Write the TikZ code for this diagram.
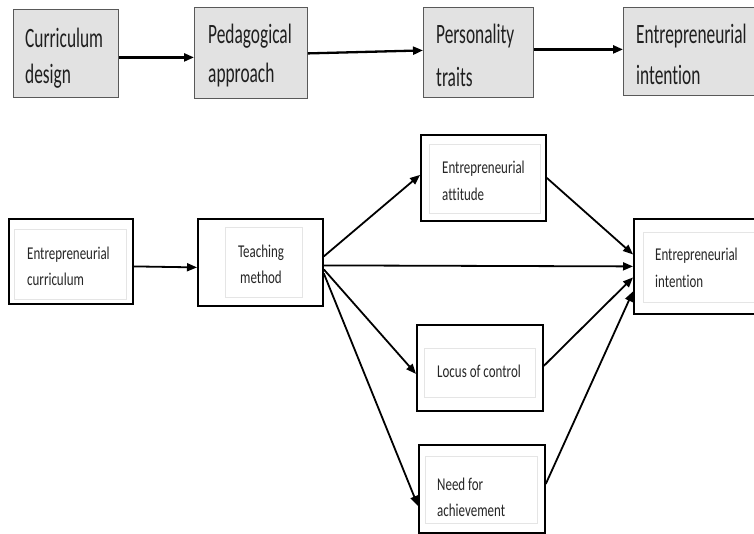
\documentclass[tikz,border=0pt]{standalone}
\usepackage{fontspec}
\setmainfont{Carlito}
\newfontfamily\topfont[FakeStretch=0.62,Ligatures=NoCommon]{Carlito}
\newfontfamily\botfont[FakeStretch=0.72,Ligatures=NoCommon]{Carlito}
\usetikzlibrary{arrows.meta,calc}
\definecolor{topfill}{RGB}{226,226,226}
\newcommand\lbl[4]{\fontsize{#1}{#2}\selectfont\begin{tabular}[t]{@{}#3@{}}#4\end{tabular}}
\begin{document}
\begin{tikzpicture}[x=1pt,y=-1pt,
  topbox/.style={draw=black!65, fill=topfill, line width=0.8pt, anchor=north west, inner sep=0pt},
  outerbox/.style={draw=black, line width=1.8pt, anchor=north west, inner sep=0pt},
  innerbox/.style={draw=black!10, line width=0.6pt},
  toplbl/.style={anchor=base west, inner sep=0pt, text=black!88, font=\topfont},
  botlbl/.style={anchor=base west, inner sep=0pt, text=black!85, font=\botfont},
  arr/.style={line width=1.8pt, -{Triangle[length=10pt,width=8pt]}},
  toparr/.style={arr, line width=2.3pt}]
\fill[white] (0,0) rectangle (754,533);
\useasboundingbox (0,0) rectangle (754,533);
% top row
\node[topbox, minimum width=105pt, minimum height=88pt] (cd) at (13,9) {};
\node[topbox, minimum width=113pt, minimum height=91pt] (pa) at (194,7) {};
\node[topbox, minimum width=110pt, minimum height=90pt] (pt) at (423,7) {};
\node[topbox, minimum width=137pt, minimum height=88pt] (tei) at (623,7) {};
\node[toplbl] (cdt) at (25,47) {\lbl{28}{36}{l}{Curriculum\\design}};
\node[toplbl] (pat) at (208,43) {\lbl{28}{39}{l}{Pedagogical\\approach}};
\node[toplbl] (ptt) at (436,43) {\lbl{28}{43}{l}{Personality\\traits}};
\node[toplbl] (teit) at (636,43) {\lbl{28}{41}{l}{Entrepreneurial\\intention}};
\draw[toparr] ([yshift=-4pt]cd.east) -- ([yshift=-4.5pt]pa.west);
\draw[toparr] ([yshift=-0.5pt]pa.east) -- ([yshift=2pt]pt.west);
\draw[toparr] ([yshift=3pt]pt.east) -- ([yshift=2pt]tei.west);
% bottom: inner boxes
\draw[innerbox] (14,229) rectangle (126,299);
\draw[innerbox] (225,227) rectangle (302,297);
\draw[innerbox] (429,144) rectangle (540,213);
\draw[innerbox] (643,232) rectangle (760,302);
\draw[innerbox] (424,348) rectangle (535,397);
\draw[innerbox] (425,456) rectangle (537,523);
% bottom: outer boxes
\node[outerbox, minimum width=124pt, minimum height=85pt] (ec) at (8,218) {};
\node[outerbox, minimum width=125pt, minimum height=87pt] (tm) at (197,218) {};
\node[outerbox, minimum width=125pt, minimum height=86pt] (ea) at (420,134) {};
\node[outerbox, minimum width=127pt, minimum height=95pt] (ei) at (633,218) {};
\node[outerbox, minimum width=126pt, minimum height=86pt] (lc) at (416,324) {};
\node[outerbox, minimum width=126pt, minimum height=88pt] (na) at (418,444) {};
% labels
\node[botlbl] (ect) at (27,259) {\lbl{18}{26}{l}{Entrepreneurial\\curriculum}};
\node[botlbl, anchor=base] (tmt) at (261,257) {\lbl{18}{26}{c}{Teaching\\method}};
\node[botlbl] (eat) at (442,173) {\lbl{18}{27}{l}{Entrepreneurial\\attitude}};
\node[botlbl] (eit) at (655,260) {\lbl{18}{27}{l}{Entrepreneurial\\intention}};
\node[botlbl] (lct) at (437,377) {\lbl{18}{26}{l}{Locus of control}};
\node[botlbl] (nat) at (437,490) {\lbl{18}{26}{l}{Need for\\achievement}};
% connectors
\draw[arr] ([yshift=-5pt]ec.east) -- ([yshift=-5pt]tm.west);
\draw[arr] ([yshift=6pt]tm.east) -- ([yshift=3pt]ea.west);
\draw[arr] ([yshift=-3pt]tm.east) -- ([yshift=0pt]ei.west);
\draw[arr] ([yshift=-7pt]tm.east) -- ([yshift=-6pt]lc.west);
\draw[arr] ([yshift=-11pt]tm.east) -- ([yshift=-17pt]na.west);
\draw[arr] (ea.east) -- ([yshift=12pt]ei.west);
\draw[arr] ([yshift=2pt]lc.east) -- ([yshift=-11pt]ei.west);
\draw[arr] ([yshift=5pt]na.east) -- ([yshift=-25pt]ei.west);
\end{tikzpicture}
\end{document}
